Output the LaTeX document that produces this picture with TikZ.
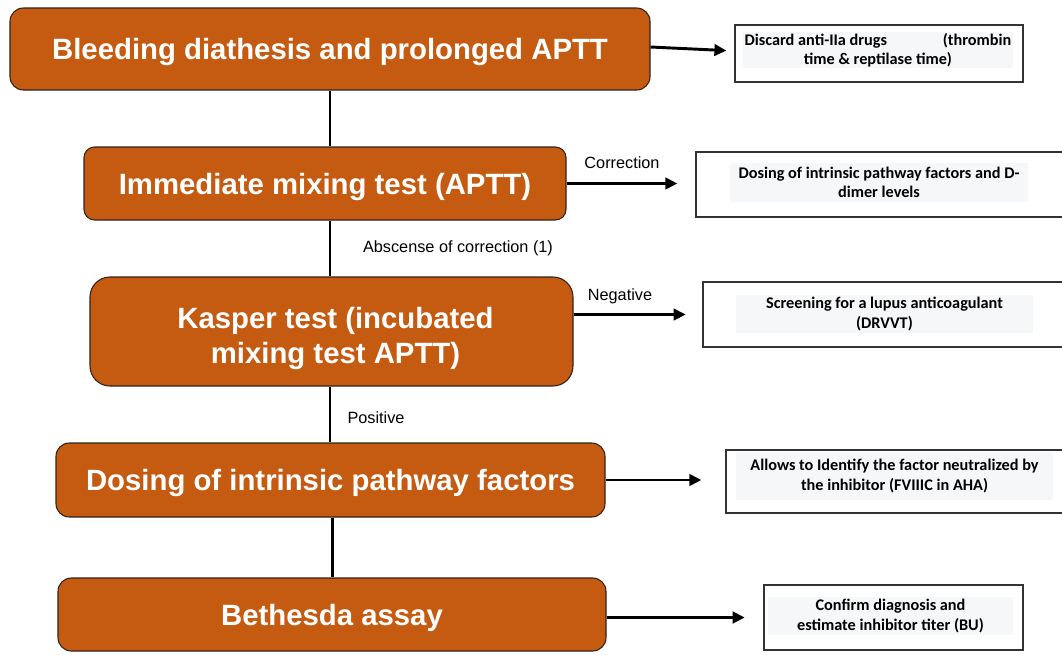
\documentclass[tikz,border=0pt]{standalone}
\usepackage{fontspec}
\setmainfont{Liberation Sans}
\newfontfamily\calfont{Carlito}
\usetikzlibrary{arrows.meta}
\definecolor{boxorange}{RGB}{197,90,17}
\definecolor{boxedge}{RGB}{50,35,25}
\definecolor{notebg}{RGB}{246,247,249}
\begin{document}
\begin{tikzpicture}[x=0.75pt,y=-0.75pt,
  mainbox/.style={draw=boxedge, line width=0.8pt, fill=boxorange, text=white,
    font=\fontsize{22}{26}\selectfont\bfseries, align=center, inner sep=0pt, text depth=0pt},
  notebox/.style={draw=black!80, line width=0.9pt, fill=white, inner sep=0pt},
  notebg/.style={fill=notebg, inner sep=0pt, align=center,
    font=\calfont\fontsize{12.2}{14.5}\selectfont\bfseries},
  vline/.style={line width=1.6pt, black},
  harrow/.style={line width=2.2pt, black, -{Triangle[length=9pt,width=8.5pt]}},
  lbl/.style={font=\fontsize{12.2}{14}\selectfont, inner sep=0pt}
]
\clip (0,0) rectangle (1062,654);
\fill[white] (0,0) rectangle (1062,654);

% main boxes
\node[mainbox, rounded corners=10pt, minimum width={640*0.75pt}, minimum height={82*0.75pt}] (b1) at (330,49) {Bleeding diathesis and prolonged APTT};
\node[mainbox, rounded corners=8pt, minimum width={482*0.75pt}, minimum height={73*0.75pt}] (b2) at (325,183.5) {Immediate mixing test (APTT)};
\node[mainbox, rounded corners=15pt, minimum width={483*0.75pt}, minimum height={109*0.75pt}, font=\fontsize{22}{26.5}\selectfont\bfseries] (b3) at (331.5,331.5) {\hspace*{6pt}\raisebox{7.5pt}{\parbox{300pt}{\centering Kasper test (incubated\\mixing test APTT)}}};
\node[mainbox, rounded corners=10pt, minimum width={549*0.75pt}, minimum height={74*0.75pt}] (b4) at (330.5,480) {Dosing of intrinsic pathway factors};
\node[mainbox, rounded corners=10pt, minimum width={548*0.75pt}, minimum height={73*0.75pt}] (b5) at (332,614.5) {Bethesda assay};

% note boxes
\node[notebox, minimum width={288*0.75pt}, minimum height={57*0.75pt}] (r1) at (879,53.5) {};
\node[notebox, minimum width={370*0.75pt}, minimum height={65*0.75pt}] (r2) at (881,184.5) {};
\node[notebox, minimum width={363*0.75pt}, minimum height={65*0.75pt}] (r3) at (884.5,314.5) {};
\node[notebox, minimum width={340*0.75pt}, minimum height={63*0.75pt}] (r4) at (896,481.5) {};
\node[notebox, minimum width={259*0.75pt}, minimum height={65*0.75pt}] (r5) at (893.5,617.5) {};

\node[notebg, minimum width={270*0.75pt}, minimum height={36*0.75pt}] (g1) at (878,50)
  {\makebox[{200pt}]{Discard anti-IIa drugs\hfill(thrombin}\\time \& reptilase time)};
\node[notebg, minimum width={298*0.75pt}, minimum height={39*0.75pt}] (g2) at (879,182.5)
  {Dosing of intrinsic pathway factors and D-\\dimer levels};
\node[notebg, minimum width={297*0.75pt}, minimum height={38*0.75pt}] (g3) at (884.5,314)
  {Screening for a lupus anticoagulant\\(DRVVT)};
\node[notebg, minimum width={317*0.75pt}, minimum height={48*0.75pt}] (g4) at (894.5,476)
  {Allows to Identify the factor neutralized by\\the inhibitor (FVIIIC in AHA)};
\node[notebg, minimum width={245*0.75pt}, minimum height={38*0.75pt}] (g5) at (890.5,616)
  {Confirm diagnosis and\\estimate inhibitor titer (BU)};

% vertical connectors
\draw[vline] (b1.south) -- (b1.south |- b2.north);
\draw[vline] (b1.south |- b2.south) -- (b1.south |- b3.north);
\draw[vline] (b1.south |- b3.south) -- (b1.south |- b4.north);
\draw[vline] ([xshift=1.5]b4.south) -- ([xshift=1.5]b4.south |- b5.north);

% horizontal arrows
\draw[harrow, shorten >=6pt] ([yshift=1.5pt]b1.east) -- ([yshift=1.9pt]r1.west);
\draw[harrow, shorten >=13.5pt] (b2.east) -- (b2.east -| r2.west);
\draw[harrow, shorten >=12.5pt] (b3.east |- r3.west) -- (r3.west);
\draw[harrow, shorten >=18pt] (b4.east) -- (b4.east -| r4.west);
\draw[harrow, shorten >=14pt] (b5.east |- r5.west) -- (r5.west);

% labels
\node[lbl] (l1) at (622,163) {Correction};
\node[lbl] (l2) at (620,296) {Negative};
\node[lbl] (l3) at (458,248) {Abscense of correction (1)};
\node[lbl] (l4) at (376,418) {Positive};
\end{tikzpicture}
\end{document}
